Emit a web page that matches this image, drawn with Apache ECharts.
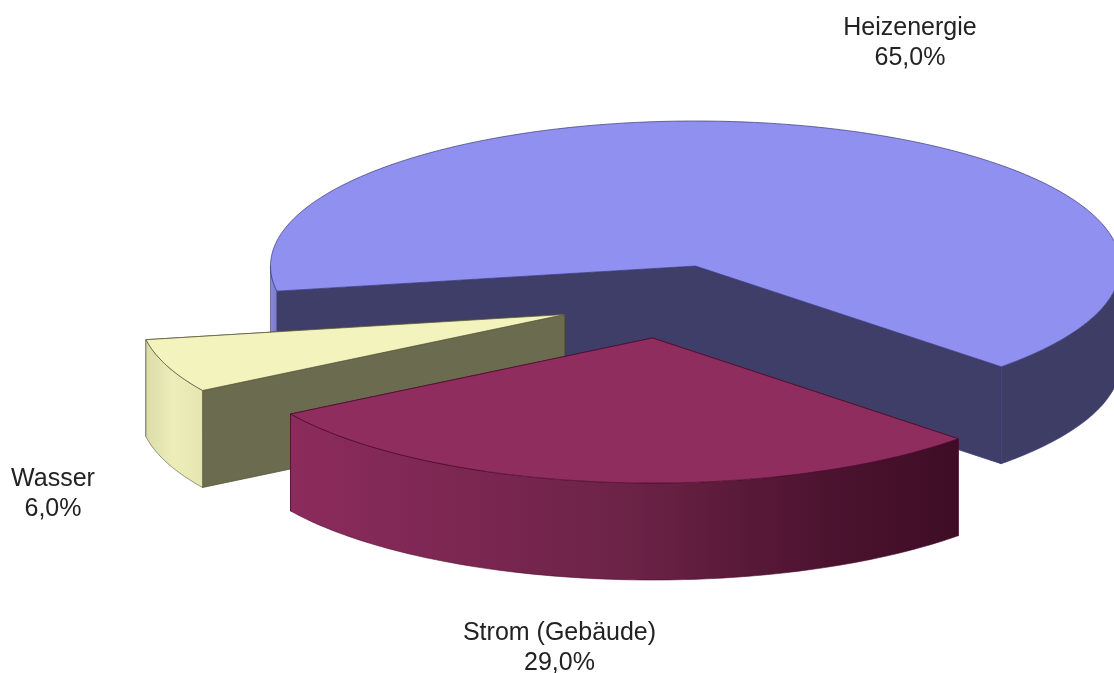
<!DOCTYPE html>
<html>
<head>
<meta charset="utf-8">
<style>html,body{margin:0;padding:0;background:#fff}#c{width:1114px;height:673px}</style>
<script src="https://cdn.jsdelivr.net/npm/echarts@6/dist/echarts.min.js"></script>
</head>
<body>
<div id="c"></div>
<script>
const categories = ['Heizenergie', 'Strom (Gebäude)', 'Wasser'];
const shares = [65.0, 29.0, 6.0];

const P = {
  cx: 695.5, cy: 266, rx: 425, ry: 145, depth: 97, startDeg: 170,
  offset: [[0, 0], [-43, 72], [-131, 48.5]],
  order: [0, 2, 1],
  top: ['#8F90F0', '#8F2D5E', '#F3F3BE'],
  edge: ['#3A3A78', '#4E0C2E', '#55553A'],
  inner: ['#3E3E68', '#3F0E26', '#6B6B50'],
  wall: [
    { x0: 270, x1: 1114, stops: [[0, '#8A8AE0'], [0.0075, '#7C7CC8'], [0.0085, '#3E3E68'], [1, '#3D3D66']] },
    { x0: 290, x1: 960, stops: [[0, '#8C2B5D'], [0.5, '#6C2347'], [0.8, '#4C132F'], [1, '#3E0D25']] },
    { x0: 145, x1: 202, stops: [[0, '#DCDCA8'], [0.5, '#EDEDBA'], [1, '#E6E6B2']] }
  ],
  label: [[910, 43], [559.5, 648], [53, 494]]
};

const total = shares.reduce((a, b) => a + b, 0);

function renderSlice(params, api) {
  const i = params.dataIndex;
  let before = 0;
  for (let k = 0; k < i; k++) before += shares[k];
  const a0 = P.startDeg + before / total * 360;
  const a1 = a0 + api.value(0) / total * 360;
  const ox = P.cx + P.offset[i][0], oy = P.cy + P.offset[i][1];
  const pt = (deg, dz) => [
    ox + P.rx * Math.cos(deg * Math.PI / 180),
    oy + P.ry * Math.sin(deg * Math.PI / 180) + (dz || 0)
  ];
  const arc = (from, to, dz) => {
    const out = [], n = Math.max(2, Math.ceil(Math.abs(to - from)));
    for (let s = 0; s <= n; s++) out.push(pt(from + (to - from) * s / n, dz));
    return out;
  };
  const base = P.order.indexOf(i) * 10;
  const kids = [];
  const poly = (points, fill, z2, stroke, lw) => kids.push({
    type: 'polygon', z2: base + z2, silent: true,
    shape: { points },
    style: { fill, stroke: stroke || 'none', lineWidth: lw === undefined ? 0.8 : lw, lineJoin: 'round' }
  });
  const o = [ox, oy], od = [ox, oy + P.depth];
  // cut faces: the one reaching lower on screen is painted in front
  const a0Front = pt(a0)[1] >= pt(a1)[1];
  poly([o, pt(a0), pt(a0, P.depth), od], P.inner[i], a0Front ? 1 : 0, P.edge[i]);
  poly([o, pt(a1), pt(a1, P.depth), od], P.inner[i], a0Front ? 0 : 1, P.edge[i]);
  // rim, front-facing parts only (sin > 0)
  const w = P.wall[i];
  const grad = new echarts.graphic.LinearGradient(w.x0, 0, w.x1, 0,
    w.stops.map(s => ({ offset: s[0], color: s[1] })), true);
  for (let turn = 0; turn <= 360; turn += 360) {
    const from = Math.max(a0, turn), to = Math.min(a1, turn + 180);
    if (to > from) {
      poly(arc(from, to, 0).concat(arc(to, from, P.depth)), grad, 2, P.edge[i], 0.6);
    }
  }
  // top
  poly([o].concat(arc(a0, a1, 0)), P.top[i], 3, P.edge[i], 0.7);
  // label
  kids.push({
    type: 'text', z2: 100, silent: true,
    style: {
      x: P.label[i][0], y: P.label[i][1],
      text: categories[i] + '\n' + api.value(0).toFixed(1).replace('.', ',') + '%',
      fill: '#222',
      font: '25px "Liberation Sans", Arial, sans-serif',
      lineHeight: 30, align: 'center', verticalAlign: 'middle'
    }
  });
  return { type: 'group', children: kids };
}

const chart = echarts.init(document.getElementById('c'), null, { renderer: 'canvas', width: 1114, height: 673 });
chart.setOption({
  animation: false,
  backgroundColor: '#fff',
  series: [{
    type: 'custom',
    coordinateSystem: 'none',
    renderItem: renderSlice,
    clip: false,
    data: shares.map((v, i) => ({ name: categories[i], value: [v] }))
  }]
});
</script>
</body>
</html>
